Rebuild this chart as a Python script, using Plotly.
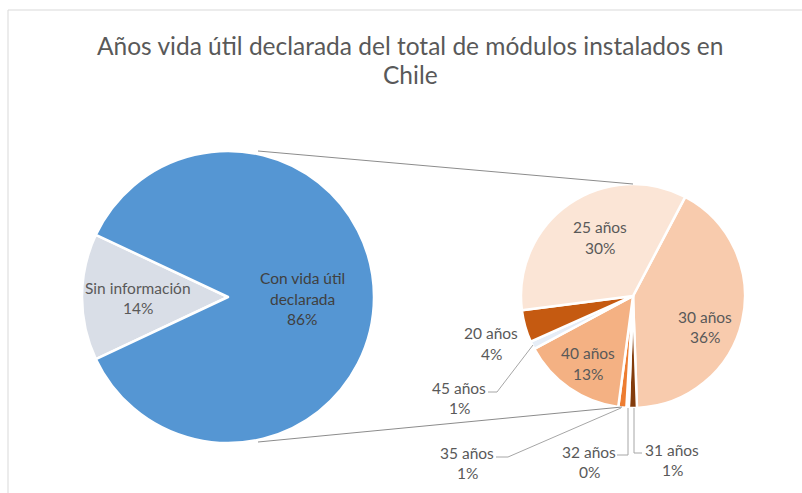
import plotly.graph_objects as go

W, H = 802, 493

title_lines = ["Años vida útil declarada del total de módulos instalados en", "Chile"]

# Primary pie (share of total, %)
primary_labels = ["Sin información", "Con vida útil declarada"]
primary_values = [14, 86]
primary_colors = ["#D9DEE7", "#5596D3"]

# Secondary pie (share of total, %), clockwise order from the 30 años slice
secondary_labels = ["30 años", "31 años", "32 años", "35 años", "40 años", "45 años", "20 años", "25 años"]
secondary_values = [36, 1, 0.3, 1, 13, 1, 4, 30]
secondary_colors = ["#F8CBAD", "#843C0C", "#F4B183", "#ED7D31", "#F4B183", "#E6EDF6", "#C55A11", "#FBE5D6"]

TXT = "#595959"
FONT = "Lato"


def px(x, y):
    return x / W, 1 - y / H


def dom(cx, cy, r):
    return dict(x=[(cx - r) / W, (cx + r) / W], y=[1 - (cy + r) / H, 1 - (cy - r) / H])


fig = go.Figure()

# primary pie: 'Sin información' centred on the left
sin_span = primary_values[0] / sum(primary_values) * 360
fig.add_trace(go.Pie(
    labels=primary_labels, values=primary_values, sort=False, direction="clockwise",
    rotation=270 - sin_span / 2, textinfo="none", hoverinfo="label+percent",
    marker=dict(colors=primary_colors, line=dict(color="white", width=2.5)),
    domain=dom(228, 297, 146), showlegend=False,
))

# secondary pie
fig.add_trace(go.Pie(
    labels=secondary_labels, values=secondary_values, sort=False, direction="clockwise",
    rotation=27.8, textinfo="none", hoverinfo="label+value",
    marker=dict(colors=secondary_colors, line=dict(color="white", width=2.5)),
    domain=dom(633, 296, 112), showlegend=False,
))

shapes = []
# chart-area border
x0, y0 = px(8, 10)
x1, y1 = px(812, 503)
shapes.append(dict(type="rect", xref="paper", yref="paper", x0=x0, y0=y0, x1=x1, y1=y1,
                   line=dict(color="#D9D9D9", width=1), fillcolor="rgba(0,0,0,0)", layer="below"))


def polyline(points, color="#A6A6A6", width=1):
    for (ax, ay), (bx, by) in zip(points[:-1], points[1:]):
        a = px(ax, ay)
        b = px(bx, by)
        shapes.append(dict(type="line", xref="paper", yref="paper", x0=a[0], y0=a[1], x1=b[0], y1=b[1],
                           line=dict(color=color, width=width)))


# connectors between pies
polyline([(258, 151), (633, 184)], color="#8C8C8C")
polyline([(258, 442), (622, 407)], color="#8C8C8C")
# leader lines
polyline([(488, 392), (497, 392), (533, 345)])
polyline([(496, 457), (508, 457), (621, 408)])
polyline([(617, 455), (628, 455), (628, 408)])
polyline([(634, 408), (634, 453), (642, 453)])

annotations = []


def label(lines, x, ys, size=15.5, color=TXT, weight=400):
    for line, y in zip(lines, ys):
        ax, ay = px(x, y)
        annotations.append(dict(text=line, x=ax, y=ay, xref="paper", yref="paper", showarrow=False,
                                xanchor="center", yanchor="middle",
                                font=dict(family=FONT, size=size, color=color, weight=weight)))


def pct(v):
    return f"{round(v)}%"


# title
label(title_lines, 410, [45, 75], size=24.5)

# primary labels
label([primary_labels[0], pct(primary_values[0])], 138, [288, 308])
label(["Con vida útil", "declarada", pct(primary_values[1])], 302, [278, 299, 319], color="#404040")

# secondary labels
sec_pos = {
    "30 años": (705, [317, 337]),
    "31 años": (672, [450, 470]),
    "32 años": (589, [452, 472]),
    "35 años": (467, [453, 473]),
    "40 años": (588, [353, 374]),
    "45 años": (459, [388, 408]),
    "20 años": (491, [333, 354]),
    "25 años": (600, [227, 248]),
}
for lab, val in zip(secondary_labels, secondary_values):
    x, ys = sec_pos[lab]
    label([lab, pct(val)], x, ys)

fig.update_layout(
    width=W, height=H, autosize=False,
    margin=dict(l=0, r=0, t=0, b=0),
    paper_bgcolor="white", plot_bgcolor="white",
    font=dict(family=FONT, color=TXT),
    shapes=shapes, annotations=annotations,
)

fig.write_html("out.html", config={"displayModeBar": False},
               post_script="document.body.style.margin='0';")
